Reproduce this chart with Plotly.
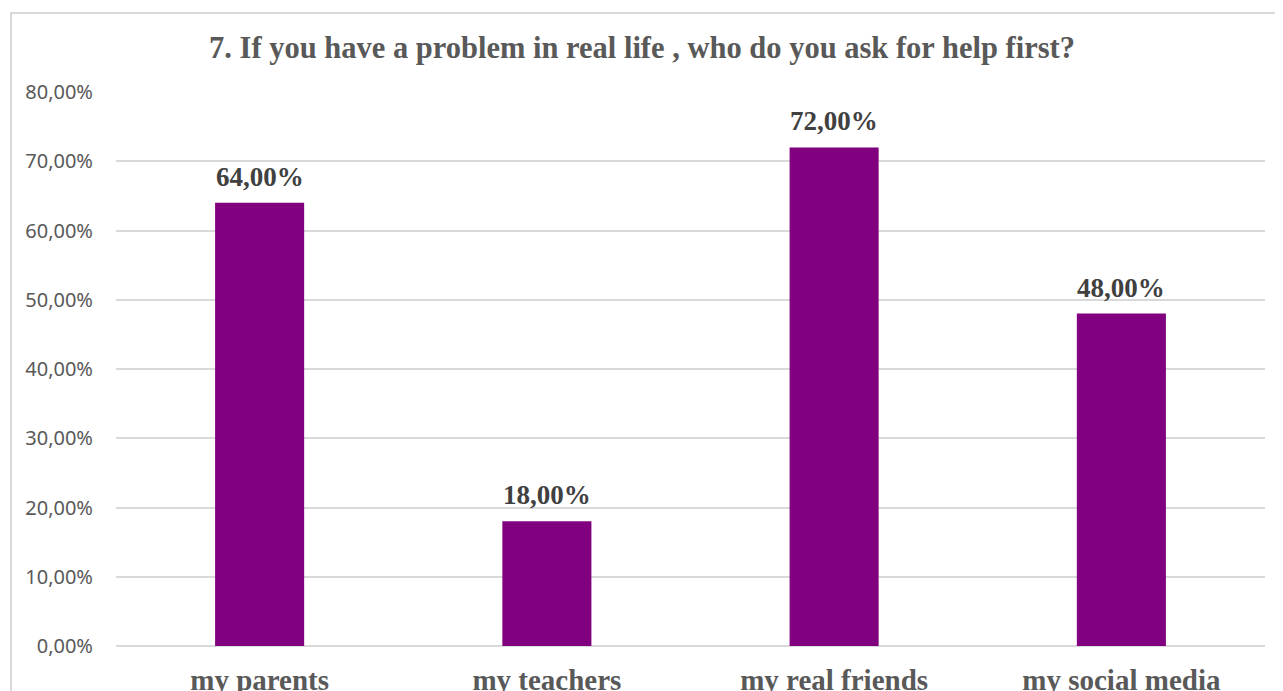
import plotly.graph_objects as go

categories = ["my parents", "my teachers", "my real friends", "my social media"]
values = [0.64, 0.18, 0.72, 0.48]
y_ticks = [0, 0.1, 0.2, 0.3, 0.4, 0.5, 0.6, 0.7, 0.8]
title_text = "7. If you have a problem in real life , who do you ask for help first?"

OFF = 8  # page body margin
W, H = 1283, 691
L, R, T, B = 116 - OFF, 1265 - OFF, 92 - OFF, 646 - OFF

fig = go.Figure(go.Bar(
    x=categories, y=values,
    marker=dict(color="#800080", line=dict(width=0)),
    width=0.31,
))

for c, v in zip(categories, values):
    fig.add_annotation(
        x=c, y=v, xref="x", yref="y", showarrow=False,
        text=f"{v * 100:.2f}%".replace(".", ","),
        yanchor="bottom", yshift=9,
        font=dict(family="Liberation Serif", size=27, color="#404040", weight="bold"),
    )

pw, ph = R - L, B - T
fig.add_shape(type="rect", xref="paper", yref="paper",
              x0=(11 - OFF - L) / pw, x1=(1300 - L) / pw,
              y0=(B - 720) / ph, y1=(B - (13 - OFF)) / ph,
              line=dict(color="#d9d9d9", width=2), fillcolor="rgba(0,0,0,0)", layer="below")

fig.update_layout(
    width=W, height=H,
    margin=dict(l=L, r=W - R, t=T, b=H - B, pad=0, autoexpand=False),
    paper_bgcolor="white", plot_bgcolor="white",
    separators=",.",
    showlegend=False,
    title=dict(text=title_text, x=(642 - OFF) / W, xanchor="center", y=1 - (47 - OFF) / H, yanchor="middle",
               font=dict(family="Liberation Serif", size=30.5, color="#595959", weight="bold")),
    xaxis=dict(showgrid=False, showline=False, ticks="", ticklabelstandoff=14, automargin=False,
               tickfont=dict(family="Liberation Serif", size=29, color="#595959", weight="bold")),
    yaxis=dict(range=[0, 0.8], tickvals=y_ticks, tickformat=".2%", automargin=False,
               showgrid=True, gridcolor="#d9d9d9", gridwidth=1.5,
               zeroline=True, zerolinecolor="#d9d9d9", zerolinewidth=1.5,
               showline=False, ticks="", ticklabelstandoff=22,
               tickfont=dict(family="Noto Sans", size=20, color="#595959")),
    bargap=0.69,
)

fig.write_html("out.html")
